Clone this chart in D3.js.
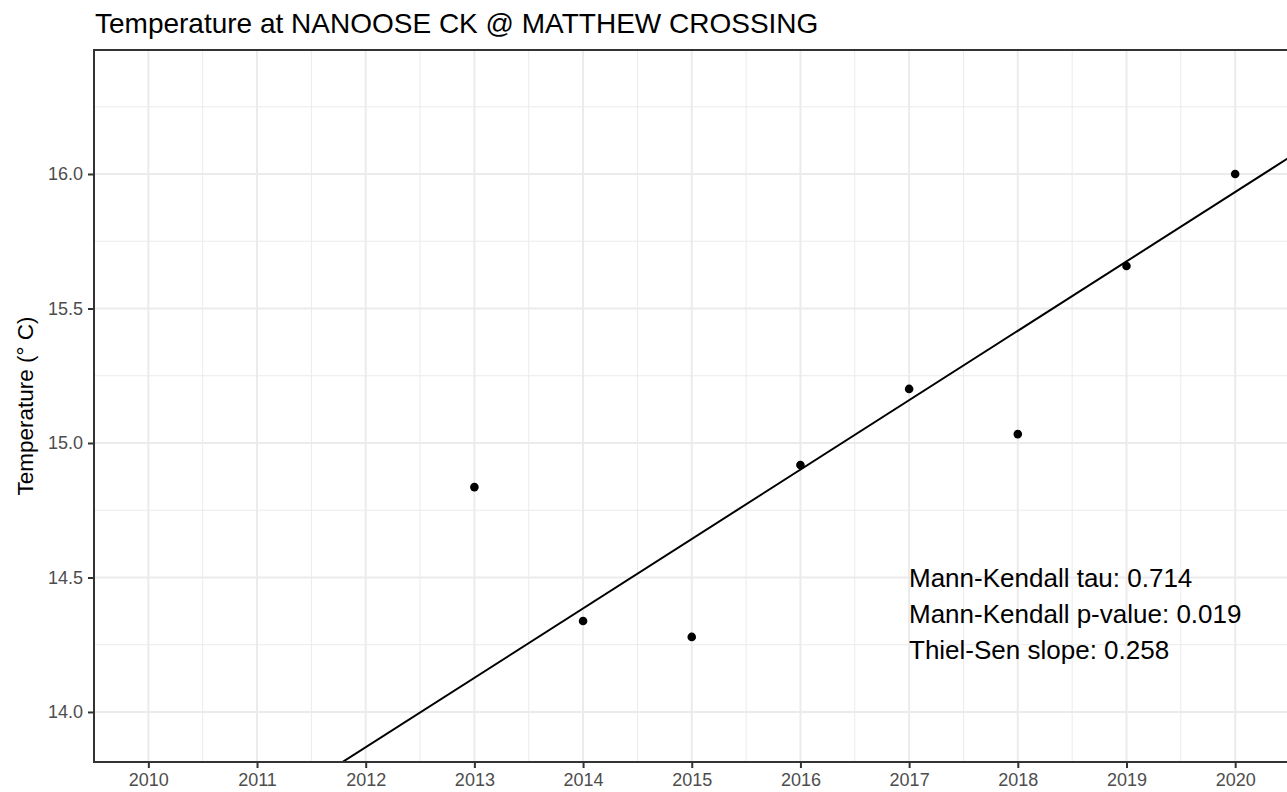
<!DOCTYPE html>
<html>
<head>
<meta charset="utf-8">
<script src="https://cdn.jsdelivr.net/npm/d3@7"></script>
<style>
  html, body { margin: 0; padding: 0; background: #fff; }
  svg { display: block; font-family: "Liberation Sans", Arial, sans-serif; }
</style>
</head>
<body>
<svg id="chart" width="1287" height="792"></svg>
<script>
// ---- data ----
const years = [2013, 2014, 2015, 2016, 2017, 2018, 2019, 2020];
const temps = [14.836, 14.338, 14.279, 14.918, 15.201, 15.033, 15.658, 16.0];
const xTicks = [2010, 2011, 2012, 2013, 2014, 2015, 2016, 2017, 2018, 2019, 2020];
const yTicks = [14.0, 14.5, 15.0, 15.5, 16.0];
const trendSlope = [0.258];
const trendAt2020 = [15.933];
const statsLines = [
  "Mann-Kendall tau: 0.714",
  "Mann-Kendall p-value: 0.019",
  "Thiel-Sen slope: 0.258"
];
const titleText = "Temperature at NANOOSE CK @ MATTHEW CROSSING";
const yTitle = "Temperature (\u00B0 C)";

// ---- layout ----
const svg = d3.select("#chart");
const pLeft = 94, pRight = 1289.5, pTop = 50, pBottom = 762;
const x = d3.scaleLinear().domain([2009.5, 2020.5]).range([pLeft, pRight]);
const y = d3.scaleLinear().domain([13.814, 16.461]).range([pBottom, pTop]);

const gridColor = "#EBEBEB";

// minor gridlines
const xMinor = xTicks.slice(0, -1).map(d => d + 0.5);
const yMinor = [13.75, 14.25, 14.75, 15.25, 15.75, 16.25];
svg.append("g").selectAll("line").data(xMinor).join("line")
  .attr("x1", d => x(d)).attr("x2", d => x(d))
  .attr("y1", pTop).attr("y2", pBottom)
  .attr("stroke", gridColor).attr("stroke-width", 1);
svg.append("g").selectAll("line").data(yMinor.filter(d => y(d) > pTop && y(d) < pBottom)).join("line")
  .attr("x1", pLeft).attr("x2", pRight)
  .attr("y1", d => y(d)).attr("y2", d => y(d))
  .attr("stroke", gridColor).attr("stroke-width", 1);
// major gridlines
svg.append("g").selectAll("line").data(xTicks).join("line")
  .attr("x1", d => x(d)).attr("x2", d => x(d))
  .attr("y1", pTop).attr("y2", pBottom)
  .attr("stroke", gridColor).attr("stroke-width", 2);
svg.append("g").selectAll("line").data(yTicks).join("line")
  .attr("x1", pLeft).attr("x2", pRight)
  .attr("y1", d => y(d)).attr("y2", d => y(d))
  .attr("stroke", gridColor).attr("stroke-width", 2);

// clip
svg.append("clipPath").attr("id", "panelClip")
  .append("rect").attr("x", pLeft).attr("y", pTop)
  .attr("width", pRight - pLeft).attr("height", pBottom - pTop);

// trend line
const x0 = x.domain()[0], x1 = x.domain()[1];
const trend = t => trendAt2020[0] + trendSlope[0] * (t - 2020);
svg.append("line")
  .attr("clip-path", "url(#panelClip)")
  .attr("x1", x(x0)).attr("y1", y(trend(x0)))
  .attr("x2", x(x1)).attr("y2", y(trend(x1)))
  .attr("stroke", "#000").attr("stroke-width", 2);

// points
svg.append("g").selectAll("circle").data(years.map((d, i) => [d, temps[i]])).join("circle")
  .attr("cx", d => x(d[0])).attr("cy", d => y(d[1])).attr("r", 4.3)
  .attr("fill", "#000");

// stats text
svg.append("g").selectAll("text").data(statsLines).join("text")
  .attr("x", 909).attr("y", (d, i) => 587 + i * 36)
  .attr("font-size", 26).attr("fill", "#000")
  .text(d => d);

// panel border
svg.append("rect").attr("x", pLeft).attr("y", pTop)
  .attr("width", pRight - pLeft).attr("height", pBottom - pTop)
  .attr("fill", "none").attr("stroke", "#333333").attr("stroke-width", 2);

// axes
const xAxis = d3.axisBottom(x).tickValues(xTicks).tickFormat(d3.format("d"))
  .tickSizeInner(6).tickSizeOuter(0).tickPadding(5);
const gx = svg.append("g").attr("transform", `translate(0,${pBottom})`).call(xAxis);
gx.select(".domain").remove();
gx.selectAll(".tick line").attr("stroke", "#333333").attr("stroke-width", 2);
gx.selectAll(".tick text").attr("fill", "#4D4D4D").attr("font-size", 18)
  .attr("font-family", "Liberation Sans, Arial, sans-serif");

const yAxis = d3.axisLeft(y).tickValues(yTicks).tickFormat(d3.format(".1f"))
  .tickSizeInner(6).tickSizeOuter(0).tickPadding(5);
const gy = svg.append("g").attr("transform", `translate(${pLeft},0)`).call(yAxis);
gy.select(".domain").remove();
gy.selectAll(".tick line").attr("stroke", "#333333").attr("stroke-width", 2);
gy.selectAll(".tick text").attr("fill", "#4D4D4D").attr("font-size", 18)
  .attr("font-family", "Liberation Sans, Arial, sans-serif");

// titles
svg.append("text").attr("x", 95).attr("y", 33)
  .attr("font-size", 28).attr("fill", "#000").text(titleText);
svg.append("text")
  .attr("transform", `translate(33,${(pTop + pBottom) / 2}) rotate(-90)`)
  .attr("text-anchor", "middle").attr("font-size", 22.5).attr("fill", "#000")
  .text(yTitle);
</script>
</body>
</html>
